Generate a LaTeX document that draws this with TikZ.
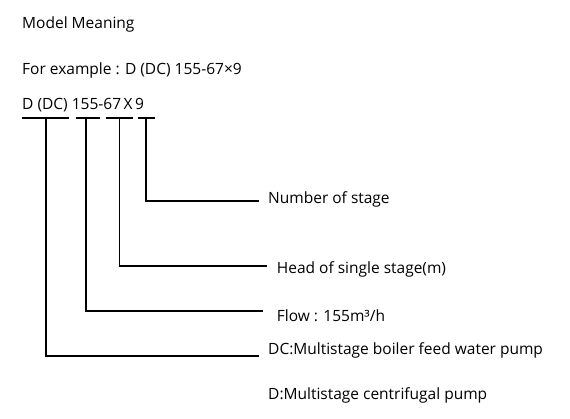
\documentclass[tikz,border=0pt]{standalone}
\usepackage{fontspec}
\setmainfont{Open Sans}
\begin{document}
\begin{tikzpicture}[x=1pt,y=-1pt,
  txt/.style={anchor=base west,inner sep=0pt,font=\fontsize{15.5}{18}\selectfont},
  lab/.style={anchor=west,inner sep=0pt,font=\fontsize{15.5}{18}\selectfont},
  ln/.style={line width=1.6pt}]
\useasboundingbox (0,0) rectangle (570,418);
\node[txt] (title) at (22,28) {Model Meaning};
\node[txt] (ex) at (22,74) {For example : D (DC) 155-67×9};
\node[txt] (code) at (22,109) {D (DC) 155-67\,X\,9};
% underline segments
\coordinate (a1) at (22,117.7); \coordinate (a2) at (69,117.7);
\coordinate (b1) at (76,117.7); \coordinate (b2) at (100,117.7);
\coordinate (c1) at (106,117.7); \coordinate (c2) at (133,117.7);
\coordinate (d1) at (138,117.7); \coordinate (d2) at (155,117.7);
\draw[ln] (a1) -- (a2);
\draw[ln] (b1) -- (b2);
\draw[ln] (c1) -- (c2);
\draw[ln] (d1) -- (d2);
\coordinate (ua) at (45.7,117.7);
\coordinate (ub) at (86,117.7);
\coordinate (uc) at (119.3,117.7);
\coordinate (ud) at (145.7,117.7);
% line ends
\coordinate (ed) at (259,200.7);
\coordinate (ec) at (266.7,265.7);
\coordinate (eb) at (263,310.7);
\coordinate (ea) at (259,355.7);
\draw[ln] (ud) |- (ed);
\draw[ln] (uc) |- (ec);
\draw[ln] (ub) |- (eb);
\draw[ln] (ua) |- (ea);
% labels
\node[lab] (ld) at (268,199) {Number of stage};
\node[lab] (lc) at (276.7,269) {Head of single stage(m)};
\node[lab] (lb) at (276.7,315.7) {Flow : 155m³/h};
\node[lab] (la) at (268,350) {DC:Multistage boiler feed water pump};
\node[lab] (la2) at (268,395) {D:Multistage centrifugal pump};
\end{tikzpicture}
\end{document}
